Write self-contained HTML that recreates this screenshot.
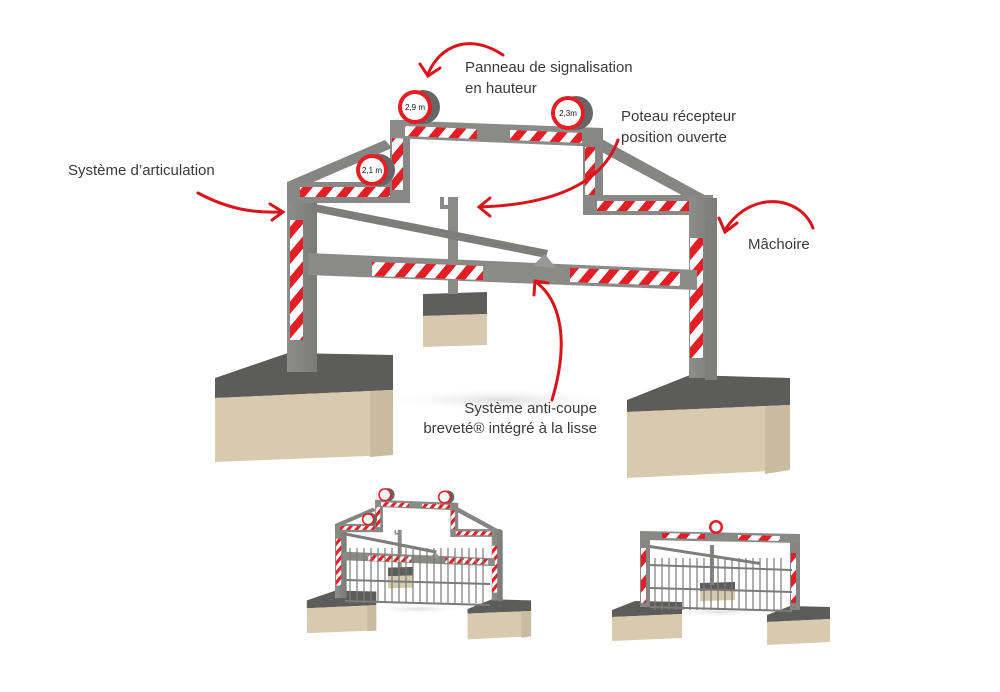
<!DOCTYPE html>
<html><head><meta charset="utf-8"><style>
html,body{margin:0;padding:0;background:#fff;}
svg{display:block;}
text{font-family:"Liberation Sans",sans-serif;fill:#3a3a3a;font-size:15px;}
</style></head><body>
<svg width="1000" height="692" viewBox="0 0 1000 692" xmlns="http://www.w3.org/2000/svg">
<defs>
<pattern id="st" width="16" height="16" patternUnits="userSpaceOnUse" patternTransform="rotate(40)">
<rect width="16" height="16" fill="#fff"/><rect width="8" height="16" fill="#e31e24"/>
</pattern>
<linearGradient id="steel" x1="0" y1="0" x2="1" y2="0"><stop offset="0" stop-color="#8e8e8c"/><stop offset="1" stop-color="#7a7a78"/></linearGradient>
<radialGradient id="shadow"><stop offset="0" stop-color="#ddd"/><stop offset="1" stop-color="#fff" stop-opacity="0"/></radialGradient>
<g id="main">
<ellipse cx="500" cy="400" rx="120" ry="12" fill="url(#shadow)"/>
<polygon points="423,294 487,292 487,314 423,316" fill="#5e5e5c"/>
<polygon points="423,316 487,314 487,345 423,347" fill="#d6c9ad"/>
<rect x="448" y="197" width="10" height="97" fill="#8a8a88"/>
<path d="M440 197 v12 h12 v-4 h-8 v-8z" fill="#8a8a88"/>
<polygon points="215,378 288,353 393,355 393,390 215,398" fill="#5c5c5a"/>
<polygon points="215,398 393,390 393,455 215,462" fill="#d8caae"/>
<polygon points="370,391 393,390 393,455 370,457" fill="#c9bb9f"/>
<polygon points="627,400 690,375 790,378 790,405 627,412" fill="#5c5c5a"/>
<polygon points="627,412 790,405 790,470 627,478" fill="#d8caae"/>
<polygon points="765,406 790,405 790,470 765,474" fill="#c9bb9f"/>
<polygon points="287,182 385,140 392,148 295,190" fill="#858583"/>
<polygon points="600,138 710,198 702,206 598,150" fill="#858583"/>
<rect x="287" y="182" width="30" height="190" fill="url(#steel)"/>
<rect x="290" y="220" width="13" height="120" fill="url(#st)"/>
<rect x="287" y="182" width="123" height="21" fill="#888886"/>
<rect x="300" y="187" width="93" height="10" fill="url(#st)"/>
<rect x="390" y="120" width="20" height="83" fill="#878785"/>
<rect x="392" y="138" width="11" height="52" fill="url(#st)"/>
<polygon points="390,120 603,128 603,147 390,138" fill="#8a8a88"/>
<polygon points="405,126 477,129 477,139 405,136" fill="url(#st)"/>
<polygon points="510,130 582,133 582,143 510,140" fill="url(#st)"/>
<rect x="583" y="128" width="20" height="87" fill="#878785"/>
<rect x="585" y="147" width="10" height="55" fill="url(#st)"/>
<rect x="583" y="195" width="130" height="20" fill="#888886"/>
<rect x="597" y="201" width="100" height="10" fill="url(#st)"/>
<rect x="689" y="198" width="28" height="180" fill="url(#steel)"/>
<rect x="705" y="220" width="12" height="160" fill="#7e7e7c"/>
<rect x="690" y="238" width="13" height="120" fill="url(#st)"/>
<polygon points="310,203 548,250 546,258 310,211" fill="#7d7d7b"/>
<polygon points="308,253 697,270 697,290 308,275" fill="#8a8a88"/>
<polygon points="372,262 483,266 483,280 372,276" fill="url(#st)"/>
<polygon points="570,268 680,272 680,286 570,282" fill="url(#st)"/>
<polygon points="532,266 545,254 556,268" fill="#999"/>
<circle cx="423" cy="107" r="17" fill="#666"/><circle cx="415" cy="107" r="17" fill="#e31e24"/><circle cx="415" cy="107" r="13" fill="#fff"/>
<circle cx="576" cy="113" r="17" fill="#666"/><circle cx="568" cy="113" r="17" fill="#e31e24"/><circle cx="568" cy="113" r="13" fill="#fff"/>
<circle cx="379" cy="170" r="16" fill="#666"/><circle cx="372" cy="170" r="16" fill="#e31e24"/><circle cx="372" cy="170" r="12" fill="#fff"/>
</g>
</defs>
<use href="#main"/>
<text x="415" y="110" text-anchor="middle" style="font-size:8px;fill:#111">2,9 m</text>
<text x="568" y="116" text-anchor="middle" style="font-size:8px;fill:#111">2,3m</text>
<text x="372" y="173" text-anchor="middle" style="font-size:8px;fill:#111">2,1 m</text>

<g fill="none" stroke="#d9141b" stroke-width="3" stroke-linecap="round">
<path d="M503 55 C470 33 440 45 428 74"/>
<path d="M420 64 L428 76 L440 68"/>
<path d="M618 140 C600 190 540 205 480 207"/>
<path d="M490 198 L479 207 L490 216"/>
<path d="M198 193 C230 210 255 213 282 212"/>
<path d="M270 204 L283 212 L272 220"/>
<path d="M813 228 C800 195 750 190 725 230"/>
<path d="M719 218 L725 232 L737 223"/>
<path d="M552 400 C570 340 560 300 536 282"/>
<path d="M534 295 L535 281 L548 283"/>
</g>

<text x="465" y="72">Panneau de signalisation</text>
<text x="465" y="93">en hauteur</text>
<text x="621" y="121">Poteau récepteur</text>
<text x="621" y="142">position ouverte</text>
<text x="68" y="175">Système d’articulation</text>
<text x="748" y="249">Mâchoire</text>
<text x="597" y="413" text-anchor="end">Système anti-coupe</text>
<text x="597" y="433" text-anchor="end">breveté® intégré à la lisse</text>

<g transform="translate(223 453) scale(0.39)"><use href="#main"/></g>
<g stroke="#7a7a78" stroke-width="1.2">
<path d="M350 548 V603 M357 548 V603 M364 548 V603 M371 548 V603 M378 548 V603 M385 548 V603 M392 548 V603 M399 548 V603 M406 548 V603 M413 548 V603 M420 548 V603 M427 548 V603 M434 548 V603 M441 548 V603 M448 548 V603 M455 548 V603 M462 548 V603 M469 548 V603 M476 548 V603 M483 548 V603"/>
<path d="M345 580 L490 584 M345 601 L490 605" stroke-width="2"/>
</g>

<g>
<ellipse cx="720" cy="612" rx="50" ry="5" fill="url(#shadow)"/>
<polygon points="612,610 635,601 682,602 682,614 612,617" fill="#5c5c5a"/>
<polygon points="612,617 682,614 682,638 612,641" fill="#d8caae"/>
<polygon points="767,615 790,606 830,607 830,619 767,622" fill="#5c5c5a"/>
<polygon points="767,622 830,619 830,642 767,645" fill="#d8caae"/>
<polygon points="700,583 735,582 735,590 700,591" fill="#5c5c5a"/>
<polygon points="700,591 735,590 735,600 700,601" fill="#d6c9ad"/>
<rect x="640" y="532" width="10" height="75" fill="#858583"/>
<rect x="641" y="548" width="5" height="55" fill="url(#st)"/>
<rect x="790" y="535" width="10" height="75" fill="#858583"/>
<rect x="791" y="553" width="5" height="50" fill="url(#st)"/>
<polygon points="640,531 800,534 800,543 640,540" fill="#888886"/>
<polygon points="662,533 705,534 705,539 662,538" fill="url(#st)"/>
<polygon points="738,535 780,536 780,541 738,540" fill="url(#st)"/>
<circle cx="716" cy="527" r="7" fill="#e31e24"/><circle cx="716" cy="527" r="4.5" fill="#fff"/>
<rect x="710" y="545" width="4" height="40" fill="#858583"/>
<polygon points="650,545 760,562 760,565 650,548" fill="#7d7d7b"/>
<g stroke="#7a7a78" stroke-width="1.2">
<path d="M655 558 V610 M662 558 V610 M669 558 V610 M676 558 V610 M683 558 V610 M690 558 V610 M697 558 V610 M704 558 V610 M711 558 V610 M718 558 V610 M725 558 V610 M732 558 V610 M739 558 V610 M746 558 V610 M753 558 V610 M760 558 V610 M767 558 V610 M774 558 V610 M781 558 V610"/>
<path d="M650 565 L792 570 M650 588 L792 592 M650 607 L792 611" stroke-width="2"/>
</g>
</g>
</svg>
</body></html>
